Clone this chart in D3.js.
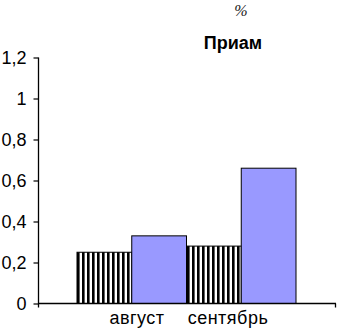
<!DOCTYPE html>
<html><head><meta charset="utf-8">
<script src="https://cdn.jsdelivr.net/npm/d3@7"></script>
<style>body{margin:0;background:#fff}svg{display:block}</style>
</head><body>
<script>
const categories = ["август", "сентябрь"];
const seriesNames = ["s1", "s2"];
const values = { s1: [0.25, 0.28], s2: [0.33, 0.66] };
const yTicks = [0, 0.2, 0.4, 0.6, 0.8, 1, 1.2];
const yTickLabels = ["0", "0,2", "0,4", "0,6", "0,8", "1", "1,2"];
const title = "Приам";
const unit = "%";

const W = 338, H = 329;
const svg = d3.select("body").append("svg").attr("width", W).attr("height", H);
const defs = svg.append("defs");
const pat = defs.append("pattern").attr("id", "stripes").attr("patternUnits", "userSpaceOnUse")
  .attr("width", 5).attr("height", 10).attr("x", 77);
pat.append("rect").attr("width", 5).attr("height", 10).attr("fill", "#fff");
pat.append("rect").attr("width", 2.6).attr("height", 10).attr("fill", "#000");

const y = d3.scaleLinear().domain([0, 1.2]).range([303.5, 57.5]);
const x = d3.scaleBand().domain(categories).range([77, 296]).paddingInner(0).paddingOuter(0);
const xs = d3.scaleBand().domain(seriesNames).range([0, x.bandwidth()]);
const labelX = d3.scalePoint().domain(categories).range([137, 228]);
const fills = { s1: "url(#stripes)", s2: "#9999ff" };
const font = "Liberation Sans, Arial, sans-serif";

// bars
seriesNames.forEach(s => {
  svg.append("g").selectAll("rect").data(categories).join("rect")
    .attr("x", c => x(c) + xs(s))
    .attr("width", xs.bandwidth())
    .attr("y", (c, i) => y(values[s][i]))
    .attr("height", (c, i) => y(0) - y(values[s][i]))
    .attr("fill", fills[s])
    .attr("stroke", "#000").attr("stroke-width", 1);
});

// y axis
const yAxis = d3.axisLeft(y).tickValues(yTicks).tickFormat((d, i) => yTickLabels[i]).tickSize(5).tickPadding(7);
const gy = svg.append("g").attr("transform", "translate(38.5,0)").call(yAxis);
gy.select(".domain").attr("stroke", "#000").attr("stroke-width", 1.3).attr("d", `M0,${y(1.2)}V${y(0)}`);
gy.selectAll(".tick line").attr("stroke", "#000").attr("stroke-width", 1.2);
gy.selectAll(".tick text").attr("font-family", font).attr("font-size", 18).attr("fill", "#000");

// x axis
const gx = svg.append("g");
gx.append("line").attr("x1", 38).attr("x2", 336).attr("y1", y(0)).attr("y2", y(0)).attr("stroke", "#000").attr("stroke-width", 1.6);
gx.selectAll("line.t").data([38.5, 335.5]).join("line").attr("class", "t")
  .attr("x1", d => d).attr("x2", d => d).attr("y1", y(0)).attr("y2", y(0) + 4)
  .attr("stroke", "#000").attr("stroke-width", 1.3);
gx.selectAll("text").data(categories).join("text")
  .attr("x", c => labelX(c)).attr("y", 324).attr("text-anchor", "middle")
  .attr("font-family", font).attr("font-size", 18)
  .attr("letter-spacing", 0.5).text(c => c);

// title and unit
svg.append("text").attr("x", 233).attr("y", 49).attr("text-anchor", "middle")
  .attr("font-family", font).attr("font-size", 18).attr("font-weight", "bold").text(title);
svg.append("text").attr("x", 241).attr("y", 16).attr("text-anchor", "middle")
  .attr("font-family", "Liberation Serif, serif").attr("font-style", "italic").attr("font-size", 16).attr("fill", "#222").text(unit);
</script>
</body></html>
